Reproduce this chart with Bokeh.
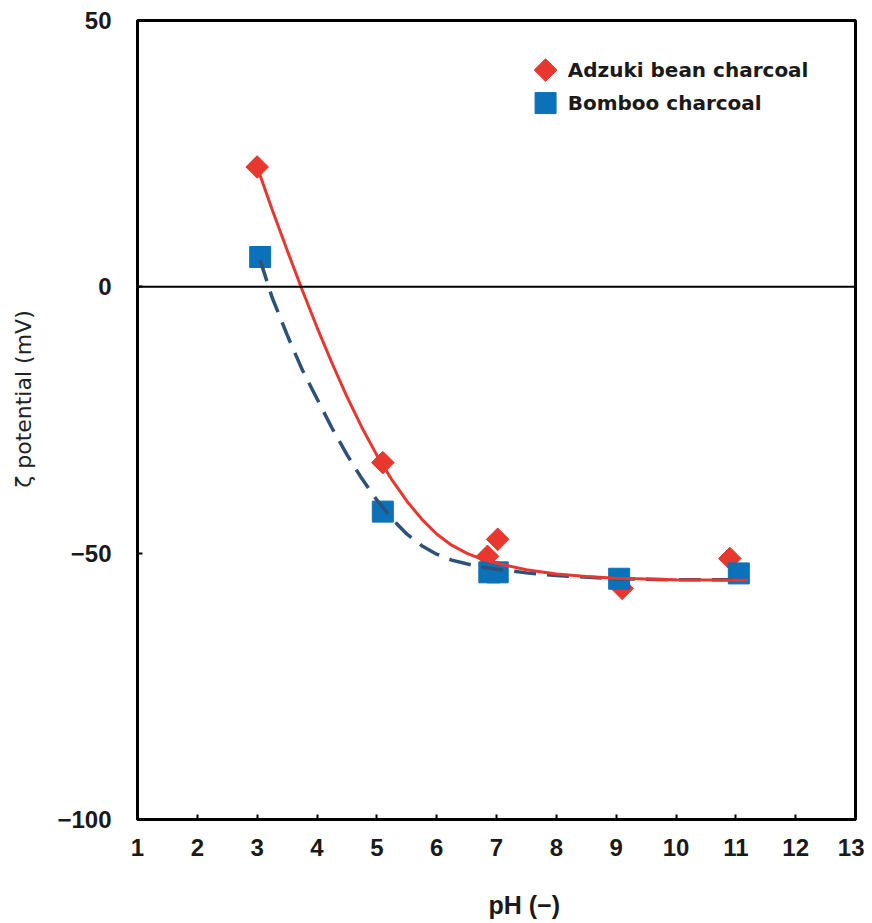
import math
from bokeh.plotting import figure
from bokeh.models import Span
from bokeh.core.properties import value
from bokeh.embed import file_html
from bokeh.resources import INLINE

# Measured points
adzuki_ph = [3.0, 5.1, 6.85, 7.02, 9.1, 10.9]
adzuki_zeta = [22.5, -33.0, -50.6, -47.4, -56.6, -51.0]
bamboo_ph = [3.05, 5.1, 6.88, 7.02, 9.05, 11.05]
bamboo_zeta = [5.6, -42.2, -53.6, -53.6, -54.8, -53.8]

# Fitted curves
adzuki_fit_ph = [3.0, 3.25, 3.5, 3.75, 4.0, 4.25, 4.5, 4.75, 5.0, 5.25, 5.5, 5.75,
                 6.0, 6.25, 6.5, 6.75, 7.0, 7.5, 8.0, 8.5, 9.0, 10.0, 11.2]
adzuki_fit_zeta = [22.5, 14.5, 6.9, -0.5, -7.6, -14.3, -20.6, -26.4, -31.6, -36.2,
                   -40.2, -43.6, -46.4, -48.5, -50.0, -51.1, -51.9, -53.1, -53.9,
                   -54.4, -54.7, -55.0, -55.1]
bamboo_fit_ph = [3.05, 3.25, 3.5, 3.75, 4.0, 4.25, 4.5, 4.75, 5.0, 5.25, 5.5, 5.75,
                 6.0, 6.25, 6.5, 6.75, 7.0, 7.5, 8.0, 9.0, 10.0, 11.0]
bamboo_fit_zeta = [5.0, -2.0, -9.0, -15.5, -21.0, -26.5, -31.5, -36.0, -40.0, -43.5,
                   -46.4, -48.6, -50.2, -51.3, -52.0, -52.6, -53.0, -53.7, -54.2,
                   -54.8, -55.0, -55.0]

series_names = ["Adzuki bean charcoal", "Bomboo charcoal"]
x_ticks = list(range(1, 14))
y_ticks = [-100, -50, 0, 50]
x_title = "pH (\u2212)"
y_title = "\u03b6 potential (mV)"

# legend anchor (data units) – decoration only
legend_x = 7.82
legend_text_x = 8.19
legend_y = [40.7, 34.5]

RED = "#e8372f"
BLUE = "#0b72b9"
DASH_BLUE = "#2d5179"
FONT = "Liberation Sans"
LFONT = "DejaVu Sans"

p = figure(width=864, height=921, output_backend="svg", toolbar_location=None,
           x_range=(1, 13), y_range=(-100, 50),
           min_border_left=137, min_border_right=9, min_border_top=20, min_border_bottom=101)
p.background_fill_color = "white"
p.border_fill_color = "white"
p.xgrid.visible = False
p.ygrid.visible = False
p.outline_line_color = "black"
p.outline_line_width = 3

for ax in (p.xaxis, p.yaxis):
    ax.axis_line_width = 3
    ax.axis_line_color = "black"
    ax.major_tick_in = 5
    ax.major_tick_out = 0
    ax.minor_tick_in = 5
    ax.minor_tick_out = 0
    ax.major_tick_line_width = 2
    ax.minor_tick_line_width = 2
    ax.major_label_text_font = FONT
    ax.major_label_text_font_style = "bold"
    ax.major_label_text_font_size = "24px"
    ax.major_label_text_color = "#1a1a1a"

p.xaxis.ticker = x_ticks
p.xaxis.ticker.num_minor_ticks = 2
p.xaxis.major_label_standoff = 19
p.xaxis.axis_label = "\u00a0" * 8 + x_title
p.xaxis.axis_label_text_font = FONT
p.xaxis.axis_label_text_font_style = "bold"
p.xaxis.axis_label_text_font_size = "25px"
p.xaxis.axis_label_text_color = "#1a1a1a"
p.xaxis.axis_label_standoff = 32

p.yaxis.ticker = y_ticks
p.yaxis.ticker.num_minor_ticks = 5
p.yaxis.major_label_standoff = 26
p.yaxis.major_label_overrides = {-100: "\u2212100"}
p.yaxis.axis_label = "\u00a0" * 6 + y_title
p.yaxis.axis_label_text_font = LFONT
p.yaxis.axis_label_text_font_style = "normal"
p.yaxis.axis_label_text_font_size = "22px"
p.yaxis.axis_label_text_color = "#222222"
p.yaxis.axis_label_standoff = 18

p.add_layout(Span(location=0, dimension="width", line_color="black", line_width=2))

r_a = p.scatter(adzuki_ph, adzuki_zeta, marker="square", size=16, angle=math.pi / 4,
                fill_color=RED, line_color=RED)
r_b = p.scatter(bamboo_ph, bamboo_zeta, marker="square", size=21,
                fill_color=BLUE, line_color=BLUE)
p.line(bamboo_fit_ph, bamboo_fit_zeta, line_color=DASH_BLUE, line_width=3.5, line_dash="22 11")
p.line(adzuki_fit_ph, adzuki_fit_zeta, line_color=RED, line_width=3)

# manual legend
p.scatter([legend_x], [legend_y[0]], marker="square", size=16, angle=math.pi / 4,
          fill_color=RED, line_color=RED)
p.scatter([legend_x], [legend_y[1]], marker="square", size=21,
          fill_color=BLUE, line_color=BLUE)
p.text([legend_text_x, legend_text_x], legend_y, text=series_names,
       text_font=value(LFONT), text_font_style="bold", text_font_size="20px",
       text_baseline="middle", text_align="left", text_color="#1a1a1a")

open("out.html", "w").write(file_html(p, INLINE))
